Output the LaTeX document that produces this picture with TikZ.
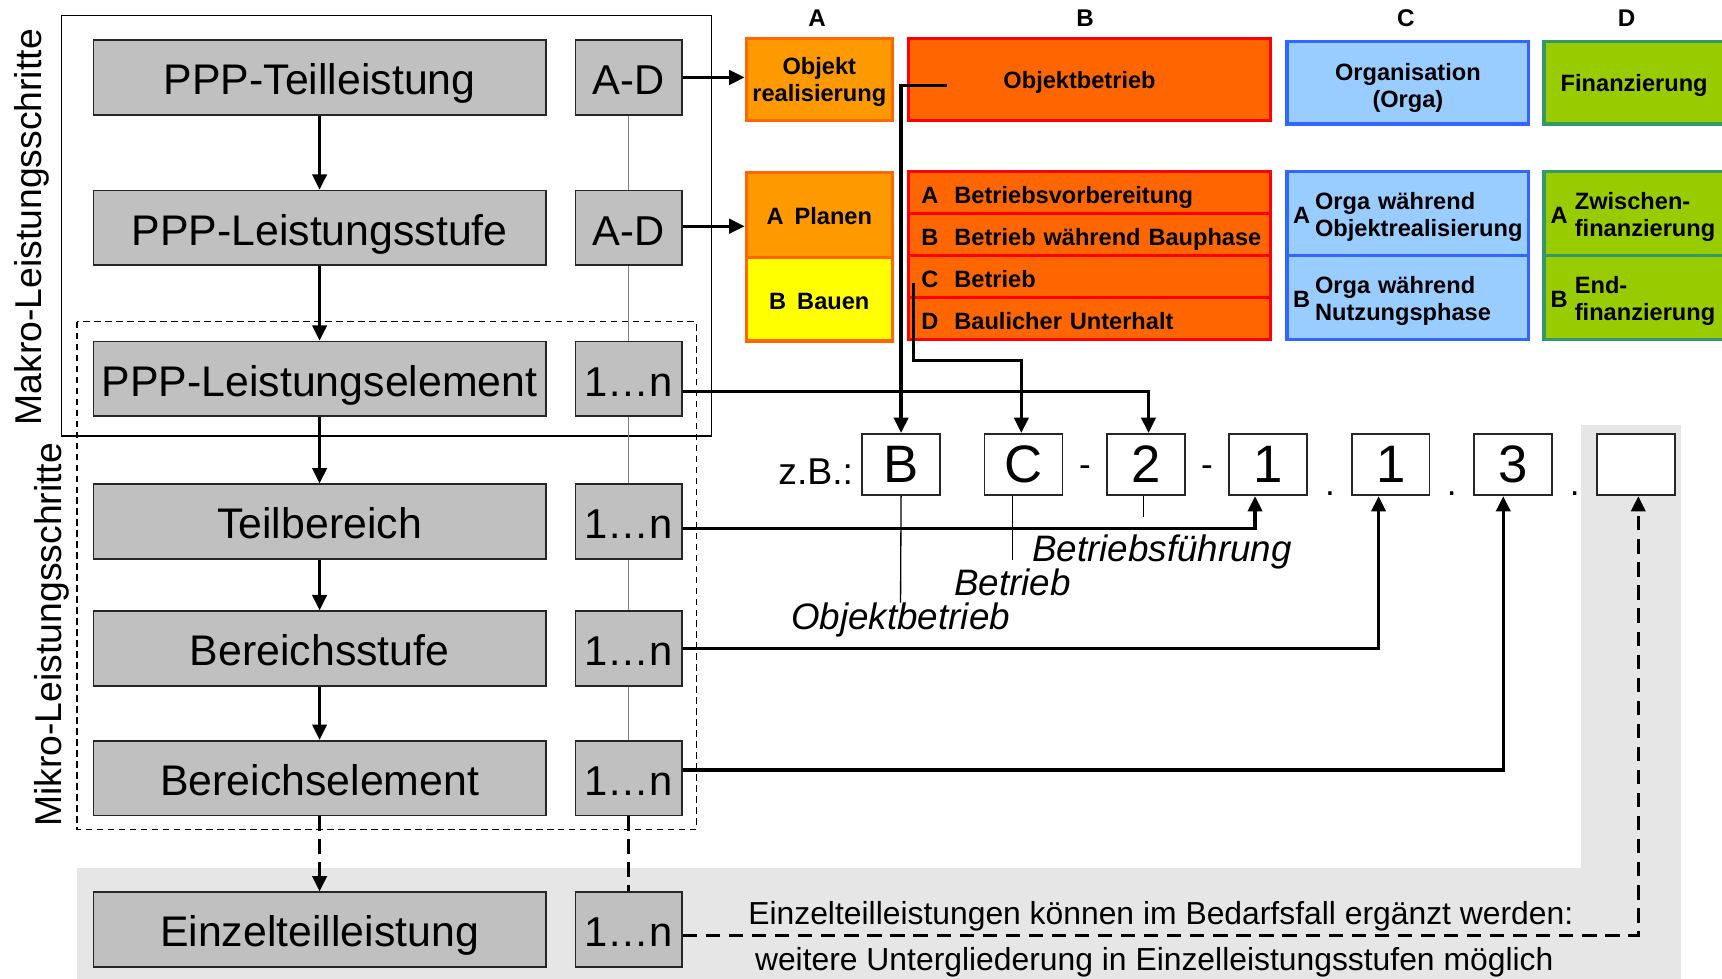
\documentclass[tikz,border=0pt]{standalone}
\usepackage{fontspec}
\setmainfont{Liberation Sans}
\usetikzlibrary{arrows.meta}

\definecolor{boxgrau}{HTML}{C0C0C0}
\definecolor{hintergrau}{HTML}{E6E6E6}
\definecolor{orangeA}{HTML}{FF9900}
\definecolor{randA}{HTML}{FF6600}
\definecolor{gelbA}{HTML}{FFFF00}
\definecolor{orangeB}{HTML}{FF6600}
\definecolor{randB}{HTML}{FF0000}
\definecolor{blauC}{HTML}{99CCFF}
\definecolor{randC}{HTML}{3366FF}
\definecolor{gruenD}{HTML}{99CC00}
\definecolor{randD}{HTML}{339966}

\newcommand\buchst[1]{\makebox[30pt][l]{#1}}
\newcommand\zweizeilig[4]{\makebox[#1][l]{#2}\begin{tabular}[c]{@{}l@{}}#3\\#4\end{tabular}}
\newcommand\oben[1]{\rule{0pt}{#1}}

\tikzset{
  stufe/.style={rectangle, draw=black!85, fill=boxgrau, line width=1.5pt, minimum width=412pt, minimum height=68pt, inner sep=0pt, text height=31.5pt, text depth=0pt, font=\fontsize{39}{44}\selectfont},
  zahl/.style={stufe, minimum width=97pt, font=\fontsize{38}{44}\selectfont},
  codefeld/.style={rectangle, draw=black!85, fill=white, line width=1.5pt, minimum width=71pt, minimum height=56pt, inner sep=0pt, font=\fontsize{48}{52}\selectfont},
  feld/.style={rectangle, line width=3pt, inner sep=0pt, align=center, font=\bfseries\fontsize{21.5}{25}\selectfont},
  bfeld/.style={feld, fill=orangeB, draw=randB, minimum height=38.25pt, text width=306pt, inner xsep=12pt, align=left, text height=21pt, text depth=0pt},
  cfeld/.style={feld, fill=blauC, draw=randC, minimum height=76.5pt, text width=209pt, inner xsep=5.5pt, align=left, text height=34pt, text depth=16pt},
  dfeld/.style={feld, fill=gruenD, draw=randD, minimum height=76.5pt, text width=152pt, inner xsep=6pt, align=left, text height=34pt, text depth=16pt},
  kopf/.style={font=\bfseries\fontsize{22}{24}\selectfont, inner sep=0pt},
  seite/.style={rotate=90, inner sep=0pt, font=\fontsize{34}{38}\selectfont},
  beschr/.style={inner sep=0pt, font=\itshape\fontsize{33.5}{36}\selectfont},
  trenner/.style={inner sep=0pt, font=\fontsize{32}{36}\selectfont},
  hinweis/.style={inner sep=0pt, font=\fontsize{29}{32}\selectfont},
  pfeil/.style={line width=3pt, -{Triangle[length=14pt,width=13pt]}},
  linie/.style={line width=3pt},
  duenn/.style={line width=1.2pt},
  grau/.style={line width=1pt, draw=gray},
  strich/.style={dash pattern=on 13pt off 8pt},
}

\begin{document}
\begin{tikzpicture}[x=1pt, y=-1pt]
\useasboundingbox (0,0) rectangle (1568,891);

% Hintergrund fuer Einzelteilleistungen
\fill[hintergrau] (70,790) rectangle (1531,891);
\fill[hintergrau] (1440,387) rectangle (1531,790);

% Rahmen Makro / Mikro
\draw[line width=1.5pt] (56,14) rectangle (648,397);
\draw[line width=1.2pt, dash pattern=on 6pt off 4pt] (70,293) rectangle (634,755);
\node[seite] (makro) at (29,207) {Makro-Leistungsschritte};
\node[seite] (mikro) at (47,578) {Mikro-Leistungsschritte};

% linke Spalte
\node[stufe] (s1) at (291,70.5) {PPP-Teilleistung};
\node[stufe] (s2) at (291,207.5) {PPP-Leistungsstufe};
\node[stufe] (s3) at (291,345) {PPP-Leistungselement};
\node[stufe] (s4) at (291,475) {Teilbereich};
\node[stufe] (s5) at (291,590.5) {Bereichsstufe};
\node[stufe] (s6) at (291,708.5) {Bereichselement};
\node[stufe] (s7) at (291,846.5) {Einzelteilleistung};

\node[zahl] (z1) at (572.5,70.5) {A-D};
\node[zahl] (z2) at (572.5,207.5) {A-D};
\node[zahl] (z3) at (572.5,345) {1…n};
\node[zahl] (z4) at (572.5,475) {1…n};
\node[zahl] (z5) at (572.5,590.5) {1…n};
\node[zahl] (z6) at (572.5,708.5) {1…n};
\node[zahl] (z7) at (572.5,846.5) {1…n};

\foreach \a/\b in {s1/s2, s2/s3, s3/s4, s4/s5, s5/s6}
  \draw[pfeil] (\a.south) -- (\b.north);
\draw[pfeil, strich] (s6.south) -- (s7.north);
\foreach \a/\b in {z1/z2, z2/z3, z3/z4, z4/z5, z5/z6}
  \draw[grau] (\a.south) -- (\b.north);
\draw[linie, strich] (z6.south) -- (z7.north);

% Spalten A-D
\node[kopf] (kA) at (744,17) {A};
\node[kopf] (kB) at (988,17) {B};
\node[kopf] (kC) at (1280,17) {C};
\node[kopf] (kD) at (1481,17) {D};

\node[feld, fill=orangeA, draw=randA, minimum width=133pt, minimum height=75pt] (objekt) at (746,72.5) {\oben{20pt}Objekt\\realisierung};
\node[feld, fill=orangeB, draw=randB, minimum width=330pt, minimum height=75pt] (objektbetrieb) at (992,72.5) {\oben{20pt}Objektbetrieb\hspace*{18pt}};
\node[feld, fill=blauC, draw=randC, minimum width=220pt, minimum height=75pt] (orga) at (1282,75.5) {\oben{25pt}Organisation\\(Orga)};
\node[feld, fill=gruenD, draw=randD, minimum width=164pt, minimum height=75pt] (finanz) at (1488,75.5) {\oben{20pt}Finanzierung};

\node[feld, fill=orangeA, draw=randA, minimum width=133pt, minimum height=77.5pt] (planen) at (746,195.75) {\oben{18pt}A\hspace{10pt}Planen};
\node[feld, fill=gelbA, draw=randA, minimum width=133pt, minimum height=76pt] (bauen) at (746,272.5) {\oben{18pt}B\hspace{10pt}Bauen};

\node[bfeld] (bet1) at (992,175.1) {\buchst{A}Betriebsvorbereitung};
\node[bfeld] (bet2) at (992,213.4) {\buchst{B}\mbox{Betrieb während Bauphase}};
\node[bfeld] (bet3) at (992,251.6) {\buchst{C}Betrieb};
\node[bfeld] (bet4) at (992,289.9) {\buchst{D}Baulicher Unterhalt};

\node[cfeld] (orga1) at (1282,194.25) {\zweizeilig{20pt}{A}{Orga während}{Objektrealisierung}};
\node[cfeld] (orga2) at (1282,270.75) {\zweizeilig{20pt}{B}{Orga während}{Nutzungsphase}};
\node[dfeld] (fin1) at (1488,194.25) {\zweizeilig{22pt}{A}{Zwischen-}{finanzierung}};
\node[dfeld] (fin2) at (1488,270.75) {\zweizeilig{22pt}{B}{End-}{finanzierung}};

% Beispielcode
\node[beschr, font=\fontsize{34}{38}\selectfont, anchor=base east] (zb) at (777,441) {z.B.:};
\node[codefeld] (codeB) at (820.5,423) {B};
\node[codefeld] (codeC) at (932,423) {C};
\node[codefeld] (code2) at (1043.3,423) {2};
\node[codefeld] (code1) at (1154.8,423) {1};
\node[codefeld] (code1b) at (1266.3,423) {1};
\node[codefeld] (code3) at (1377.8,423) {3};
\node[codefeld] (codeX) at (1489.8,423) {};
\node[trenner, anchor=base] (t1) at (988,434) {-};
\node[trenner, anchor=base] (t2) at (1099,434) {-};
\node[trenner, anchor=base] (p1) at (1211,451) {.};
\node[trenner, anchor=base] (p2) at (1322,451) {.};
\node[trenner, anchor=base] (p3) at (1434,451) {.};

\node[beschr] (lObjekt) at (820,564.5) {Objektbetrieb};
\node[beschr] (lBetrieb) at (922,530) {Betrieb};
\node[beschr] (lFuehrung) at (1058,503) {Betriebsführung};
\draw[duenn] (codeB.south) -- (lObjekt.north);
\draw[duenn] (codeC.south -| lBetrieb.north) -- ([yshift=8pt]lBetrieb.north);
\draw[duenn] ([xshift=-2pt]code2.south) -- ++(0,19);

% Verbindungen
\draw[pfeil] (z1.east) -- (z1.east -| objekt.west);
\draw[pfeil] ([yshift=1.5pt]z2.east) -- ([yshift=1.5pt]z2.east -| planen.west);
\coordinate (obStart) at (862,78);
\draw[pfeil] (obStart) -| (codeB.north);
\coordinate (betStart) at (832,258);
\draw[pfeil] (betStart) -- ++(0,70) -| ([xshift=-2pt]codeC.north);
\draw[pfeil] ([yshift=-11.5pt]z3.east) -| ([xshift=2.5pt]code2.north);
\draw[pfeil] ([yshift=-6pt]z4.east) -| ([xshift=-12pt]code1.south);
\draw[pfeil] (z5.east) -| ([xshift=-11pt]code1b.south);
\draw[pfeil] ([yshift=7.5pt]z6.east) -| ([xshift=-9pt]code3.south);
\draw[pfeil, strich] ([yshift=-5.5pt]z7.east) -| ([xshift=2pt]codeX.south);

\node[hinweis] (hinweis1) at (1057,834) {Einzelteilleistungen können im Bedarfsfall ergänzt werden:};
\node[hinweis] (hinweis2) at (1051,876) {weitere Untergliederung in Einzelleistungsstufen möglich};
\end{tikzpicture}
\end{document}
